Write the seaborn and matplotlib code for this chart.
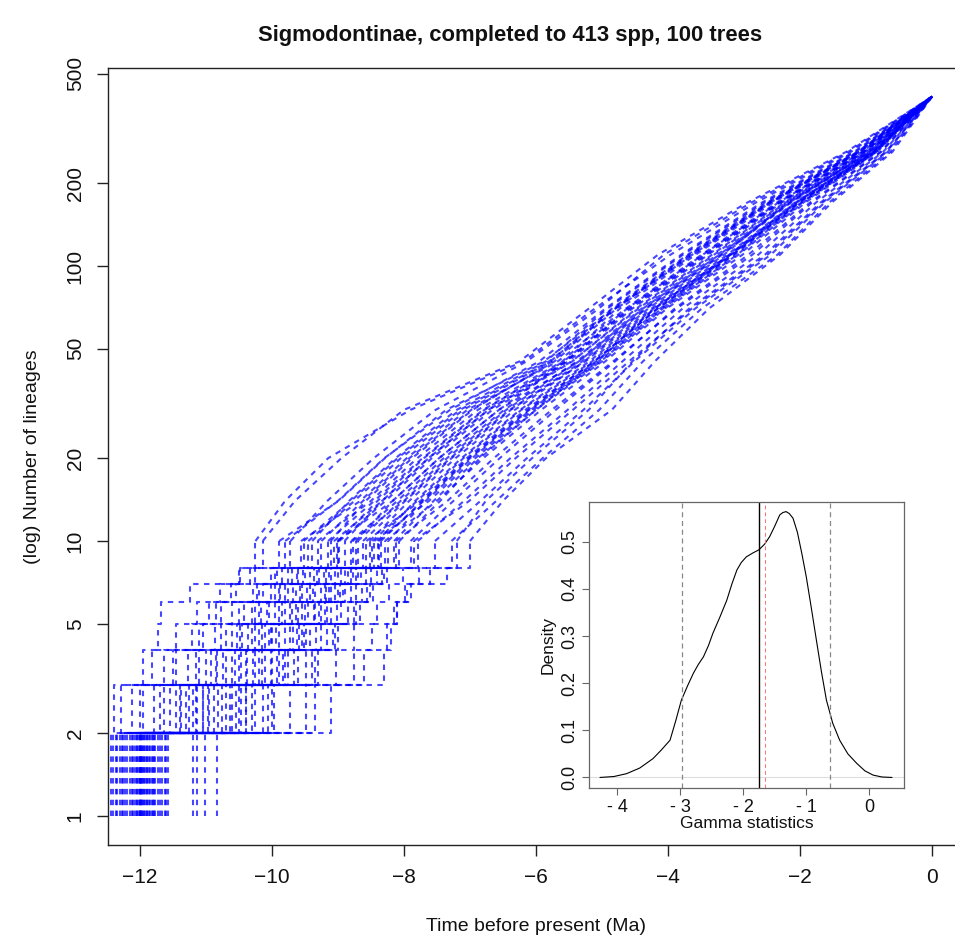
import numpy as np
import pandas as pd
import matplotlib
matplotlib.use("Agg")
import matplotlib.pyplot as plt
import seaborn as sns

# ---------------- data ----------------
# lineage counts at which the time of each tree was read
lineage_levels = [2, 3, 4, 5, 6, 7, 8, 10, 14, 20, 30, 45, 70, 110, 170, 260]
present_lineages = 413
present_time = 0.0

# crown age (time when each tree reaches 2 lineages), Ma
crown_ages = [-12.44, -12.41, -12.36, -12.35, -12.28, -12.26, -12.23, -12.12, -12.05,
              -12.02, -12.00, -12.00, -11.99, -11.98, -11.92, -11.89, -11.85, -11.80,
              -11.77, -11.67, -11.62, -11.58, -11.20, -11.14, -11.02, -10.83,
              -12.10, -12.04, -11.97, -11.95, -11.90, -11.87, -11.82, -11.79,
              -12.15, -12.20, -11.70, -11.73, -12.30, -11.60, -12.07, -11.94]

# time at which each tree reaches 3, 4, 5, 6, 7, 8, 10, 14, 20, 30, 45, 70, 110, 170, 260 lineages
split_times = [
    [-12.40, -11.95, -11.72, -11.68, -11.24, -10.50, -10.25, -9.80, -9.15, -7.90, -6.19, -5.11, -3.96, -2.67, -1.23],
    [-12.12, -11.64, -11.21, -10.95, -10.62, -10.33, -10.14, -9.65, -8.95, -8.00, -6.25, -5.20, -4.15, -2.80, -1.30],
    [-12.29, -11.82, -11.45, -11.13, -10.79, -10.49, -9.89, -8.99, -8.29, -7.36, -5.88, -4.83, -3.68, -2.48, -1.13],
    [-11.79, -11.28, -10.87, -10.60, -10.29, -10.01, -9.72, -9.16, -8.46, -7.52, -6.14, -5.05, -4.06, -2.74, -1.27],
    [-11.96, -11.46, -11.04, -10.78, -10.20, -9.95, -9.56, -8.66, -7.96, -7.04, -5.67, -4.64, -3.49, -2.35, -1.06],
    [-11.46, -10.92, -10.53, -10.25, -9.96, -9.69, -9.39, -8.83, -8.13, -7.20, -5.85, -4.92, -3.77, -2.54, -1.16],
    [-11.63, -11.10, -10.70, -10.43, -10.13, -9.85, -9.31, -8.50, -7.80, -6.88, -5.60, -4.73, -3.58, -2.41, -1.09],
    [-11.30, -10.74, -10.36, -10.08, -9.80, -9.53, -9.06, -8.33, -7.63, -6.72, -5.46, -4.45, -3.30, -2.22, -0.99],
    [-11.13, -10.56, -10.19, -9.90, -9.63, -9.37, -9.11, -8.58, -7.88, -6.96, -5.75, -4.80, -3.62, -2.45, -1.10],
    [-11.38, -10.83, -10.45, -10.16, -9.88, -9.61, -9.01, -8.17, -7.47, -6.56, -5.35, -4.35, -3.20, -2.15, -0.95],
    [-10.97, -10.38, -10.02, -9.73, -9.47, -9.21, -8.90, -8.33, -7.63, -6.72, -5.51, -4.54, -3.39, -2.28, -1.02],
    [-11.05, -10.47, -10.11, -9.81, -9.55, -9.29, -8.78, -8.00, -7.30, -6.40, -5.25, -4.25, -3.10, -2.08, -0.91],
    [-11.20, -10.20, -10.00, -9.55, -9.20, -9.05, -8.73, -8.17, -7.47, -6.56, -5.55, -4.60, -3.45, -2.32, -1.04],
    [-10.63, -10.02, -9.68, -9.37, -9.13, -8.89, -8.52, -7.92, -7.22, -6.32, -5.27, -4.30, -3.15, -2.20, -0.92],
    [-10.88, -10.29, -9.94, -9.64, -9.38, -9.13, -8.57, -7.75, -7.05, -6.16, -5.11, -4.16, -3.01, -2.02, -0.88],
    [-10.47, -9.84, -9.51, -9.20, -8.97, -8.73, -8.40, -7.83, -7.13, -6.24, -5.19, -4.22, -3.05, -2.05, -0.88],
    [-10.55, -9.93, -9.59, -9.29, -9.05, -8.81, -8.29, -7.50, -6.80, -5.92, -4.95, -4.02, -2.87, -1.92, -0.83],
    [-10.30, -9.66, -9.34, -9.02, -8.80, -8.57, -8.24, -7.67, -6.97, -6.08, -5.09, -4.12, -3.05, -1.98, -0.86],
    [-10.39, -9.75, -9.42, -9.11, -8.89, -8.65, -8.12, -7.34, -6.64, -5.76, -4.83, -3.87, -2.72, -1.82, -0.77],
    [-10.14, -9.48, -9.17, -8.85, -8.64, -8.41, -8.07, -7.45, -6.85, -6.00, -5.07, -4.21, -3.06, -2.05, -0.90],
    [-9.97, -9.30, -9.00, -8.67, -8.47, -8.25, -7.79, -7.09, -6.39, -5.52, -4.69, -3.78, -2.63, -1.76, -0.74],
    [-10.06, -9.39, -9.08, -8.76, -8.56, -8.33, -7.85, -7.01, -6.31, -5.44, -4.59, -3.64, -2.49, -1.66, -0.69],
    [-9.73, -9.03, -8.75, -8.41, -8.23, -8.01, -7.53, -6.84, -6.14, -5.28, -4.51, -3.59, -2.44, -1.63, -0.67],
    [-9.48, -8.76, -8.49, -8.15, -7.98, -7.77, -7.28, -6.60, -5.90, -5.04, -4.38, -3.49, -2.34, -1.56, -0.63],
    [-9.35, -8.30, -8.20, -8.10, -7.95, -7.60, -7.20, -6.76, -6.06, -5.20, -4.54, -3.68, -2.53, -1.69, -0.70],
    [-9.10, -8.60, -8.26, -8.10, -7.90, -7.35, -7.00, -6.50, -5.85, -4.85, -4.20, -3.38, -2.30, -1.52, -0.60],
    [-11.40, -10.85, -10.48, -10.20, -9.90, -9.62, -9.25, -8.62, -7.92, -6.98, -5.72, -4.78, -3.63, -2.45, -1.10],
    [-11.15, -10.60, -10.25, -9.95, -9.68, -9.42, -8.98, -8.28, -7.58, -6.66, -5.45, -4.48, -3.33, -2.24, -1.00],
    [-11.25, -10.70, -10.30, -10.05, -9.75, -9.50, -9.15, -8.45, -7.72, -6.80, -5.55, -4.57, -3.42, -2.30, -1.03],
    [-10.75, -10.15, -9.80, -9.50, -9.25, -9.00, -8.62, -7.98, -7.28, -6.38, -5.30, -4.33, -3.18, -2.14, -0.94],
    [-10.95, -10.40, -10.05, -9.70, -9.42, -9.18, -8.80, -8.10, -7.40, -6.48, -5.38, -4.40, -3.25, -2.18, -0.97],
    [-10.70, -10.10, -9.72, -9.45, -9.18, -8.95, -8.48, -7.80, -7.10, -6.22, -5.15, -4.20, -3.07, -2.07, -0.89],
    [-10.40, -9.80, -9.48, -9.16, -8.92, -8.70, -8.35, -7.72, -7.02, -6.12, -5.12, -4.16, -3.02, -2.03, -0.87],
    [-10.60, -10.00, -9.62, -9.35, -9.10, -8.85, -8.45, -7.62, -6.92, -6.04, -5.02, -4.08, -2.95, -1.97, -0.85],
    [-11.55, -11.00, -10.60, -10.30, -10.02, -9.75, -9.45, -8.75, -8.05, -7.10, -5.78, -4.85, -3.70, -2.50, -1.12],
    [-11.70, -11.15, -10.78, -10.50, -10.22, -9.92, -9.52, -8.80, -8.10, -7.15, -5.80, -4.80, -3.66, -2.46, -1.11],
    [-10.25, -9.60, -9.25, -8.95, -8.72, -8.50, -8.15, -7.55, -6.88, -6.00, -5.00, -4.05, -2.93, -1.95, -0.84],
    [-10.50, -9.90, -9.55, -9.25, -9.00, -8.78, -8.38, -7.70, -7.00, -6.10, -5.05, -4.10, -2.98, -2.00, -0.86],
    [-12.00, -11.50, -11.10, -10.85, -10.55, -10.25, -9.80, -9.00, -8.30, -7.30, -5.95, -4.95, -3.80, -2.58, -1.18],
    [-10.00, -9.35, -9.05, -8.72, -8.52, -8.30, -7.90, -7.25, -6.55, -5.70, -4.80, -3.90, -2.78, -1.85, -0.78],
    [-11.05, -10.50, -10.15, -9.85, -9.58, -9.32, -9.00, -8.40, -7.70, -6.78, -5.58, -4.62, -3.47, -2.33, -1.05],
    [-10.82, -10.25, -9.90, -9.60, -9.35, -9.10, -8.70, -8.05, -7.35, -6.45, -5.35, -4.38, -3.22, -2.16, -0.95],
]

x_ticks = [-12, -10, -8, -6, -4, -2, 0]
y_ticks = [1, 2, 5, 10, 20, 50, 100, 200, 500]

# inset: density of the gamma statistic
gamma_x = [-4.27, -4.05, -3.85, -3.64, -3.43, -3.30, -3.16, -3.07, -2.98, -2.88, -2.79, -2.71,
           -2.63, -2.55, -2.48, -2.37, -2.26, -2.18, -2.10, -2.03, -1.95, -1.85, -1.75, -1.66,
           -1.58, -1.50, -1.42, -1.37, -1.32, -1.27, -1.21, -1.14, -1.07, -1.00, -0.92, -0.84,
           -0.76, -0.68, -0.58, -0.47, -0.34, -0.20, -0.07, 0.06, 0.20, 0.36]
gamma_density = [0.000, 0.002, 0.008, 0.020, 0.040, 0.058, 0.079, 0.120, 0.164, 0.195, 0.221, 0.240,
                 0.256, 0.280, 0.306, 0.340, 0.376, 0.410, 0.440, 0.456, 0.468, 0.476, 0.483, 0.495,
                 0.511, 0.533, 0.557, 0.562, 0.564, 0.560, 0.550, 0.520, 0.475, 0.426, 0.360, 0.292,
                 0.225, 0.164, 0.115, 0.079, 0.050, 0.030, 0.014, 0.005, 0.001, 0.000]
gamma_interval = [-2.97, -0.62]
gamma_observed = -1.75
gamma_mean = -1.65
gamma_xticks = [-4, -3, -2, -1, 0]
gamma_xticklabels = ["- 4", "- 3", "- 2", "- 1", "0"]
gamma_yticks = [0.0, 0.1, 0.2, 0.3, 0.4, 0.5]

# ---------------- figure ----------------
sns.set_theme(style="ticks")
plt.rcParams['font.family'] = ['Liberation Sans', 'DejaVu Sans']
plt.rcParams['axes.unicode_minus'] = True

W, H = 955, 950
fig = plt.figure(figsize=(W / 100, H / 100), dpi=100)
fig.patch.set_facecolor("white")

# main axes (right border falls just outside the picture, as in the reference)
L, R, T, B = 108.3, 963.7, 67.8, 844.8
ax = fig.add_axes([L / W, 1 - B / H, (R - L) / W, (B - T) / H])
ax.set_facecolor("white")

line_kw = dict(color=(0, 0, 1), alpha=0.72, lw=1.5, linestyle=(0, (2.6, 2.6)),
               sort=False, estimator=None, ax=ax, legend=False)
for crown, times in zip(crown_ages, split_times):
    # stepwise part (few lineages)
    step_x = [crown, crown] + times[0:7]
    step_y = [1] + lineage_levels[0:8]
    sns.lineplot(x=step_x, y=step_y, drawstyle="steps-post", **line_kw)
    # many lineages
    cont_x = times[6:] + [present_time]
    cont_y = lineage_levels[7:] + [present_lineages]
    sns.lineplot(x=cont_x, y=cont_y, **line_kw)

ax.set_yscale("log")
ax.set_xlim(-12.48, 0.48)
ax.set_ylim(0.786, 525.6)
ax.set_xticks(x_ticks)
ax.set_xticklabels([f"\u2212{abs(v)}" if v < 0 else str(v) for v in x_ticks])
ax.set_yticks(y_ticks)
ax.set_yticklabels([str(v) for v in y_ticks], rotation=90, va="center")
ax.minorticks_off()
for s in ax.spines.values():
    s.set_visible(True)
    s.set_color("#222222")
    s.set_linewidth(1.0)
ax.tick_params(axis="both", direction="out", length=8, width=1.0, color="#222222",
               labelsize=15, pad=9, labelcolor="#111111")
ax.set_xlabel("Time before present (Ma)", fontsize=14, labelpad=22, color="#111111")
ax.set_ylabel("(log) Number of lineages", fontsize=14, labelpad=18, color="#111111")

fig.text(510 / W, 1 - 35 / H, "Sigmodontinae, completed to 413 spp, 100 trees",
         ha="center", va="center", fontsize=15.8, fontweight="bold", color="#111111")

# inset
iL, iR, iT, iB = 589.3, 904.0, 501.7, 788.3
ins = fig.add_axes([iL / W, 1 - iB / H, (iR - iL) / W, (iB - iT) / H])
ins.set_facecolor("white")
ins.axhline(0, color="#dddddd", lw=0.8, zorder=1)
sns.lineplot(x=gamma_x, y=gamma_density, ax=ins, color="black", lw=0.8,
             sort=False, estimator=None, legend=False)
for v in gamma_interval:
    ins.axvline(v, color="#888888", lw=0.9, linestyle=(0, (4, 3)))
ins.axvline(gamma_observed, color="black", lw=1.0)
ins.axvline(gamma_mean, color="#ff7070", lw=0.7, linestyle=(0, (4, 3)))
ins.set_xlim(-4.44, 0.55)
ins.set_ylim(-0.023, 0.585)
ins.set_xticks(gamma_xticks)
ins.set_xticklabels(gamma_xticklabels)
ins.set_yticks(gamma_yticks)
ins.set_yticklabels([f"{v:.1f}" for v in gamma_yticks], rotation=90, va="center")
for s in ins.spines.values():
    s.set_visible(True)
    s.set_color("#666666")
    s.set_linewidth(0.9)
ins.tick_params(axis="both", direction="out", length=5, width=0.8, color="#666666",
                labelsize=13, pad=3, labelcolor="#111111")
ins.set_xlabel("Gamma statistics", fontsize=12.5, labelpad=0, color="#111111")
ins.set_ylabel("Density", fontsize=12.5, labelpad=4, color="#111111")

fig.savefig("out.png", dpi=100, facecolor="white")
